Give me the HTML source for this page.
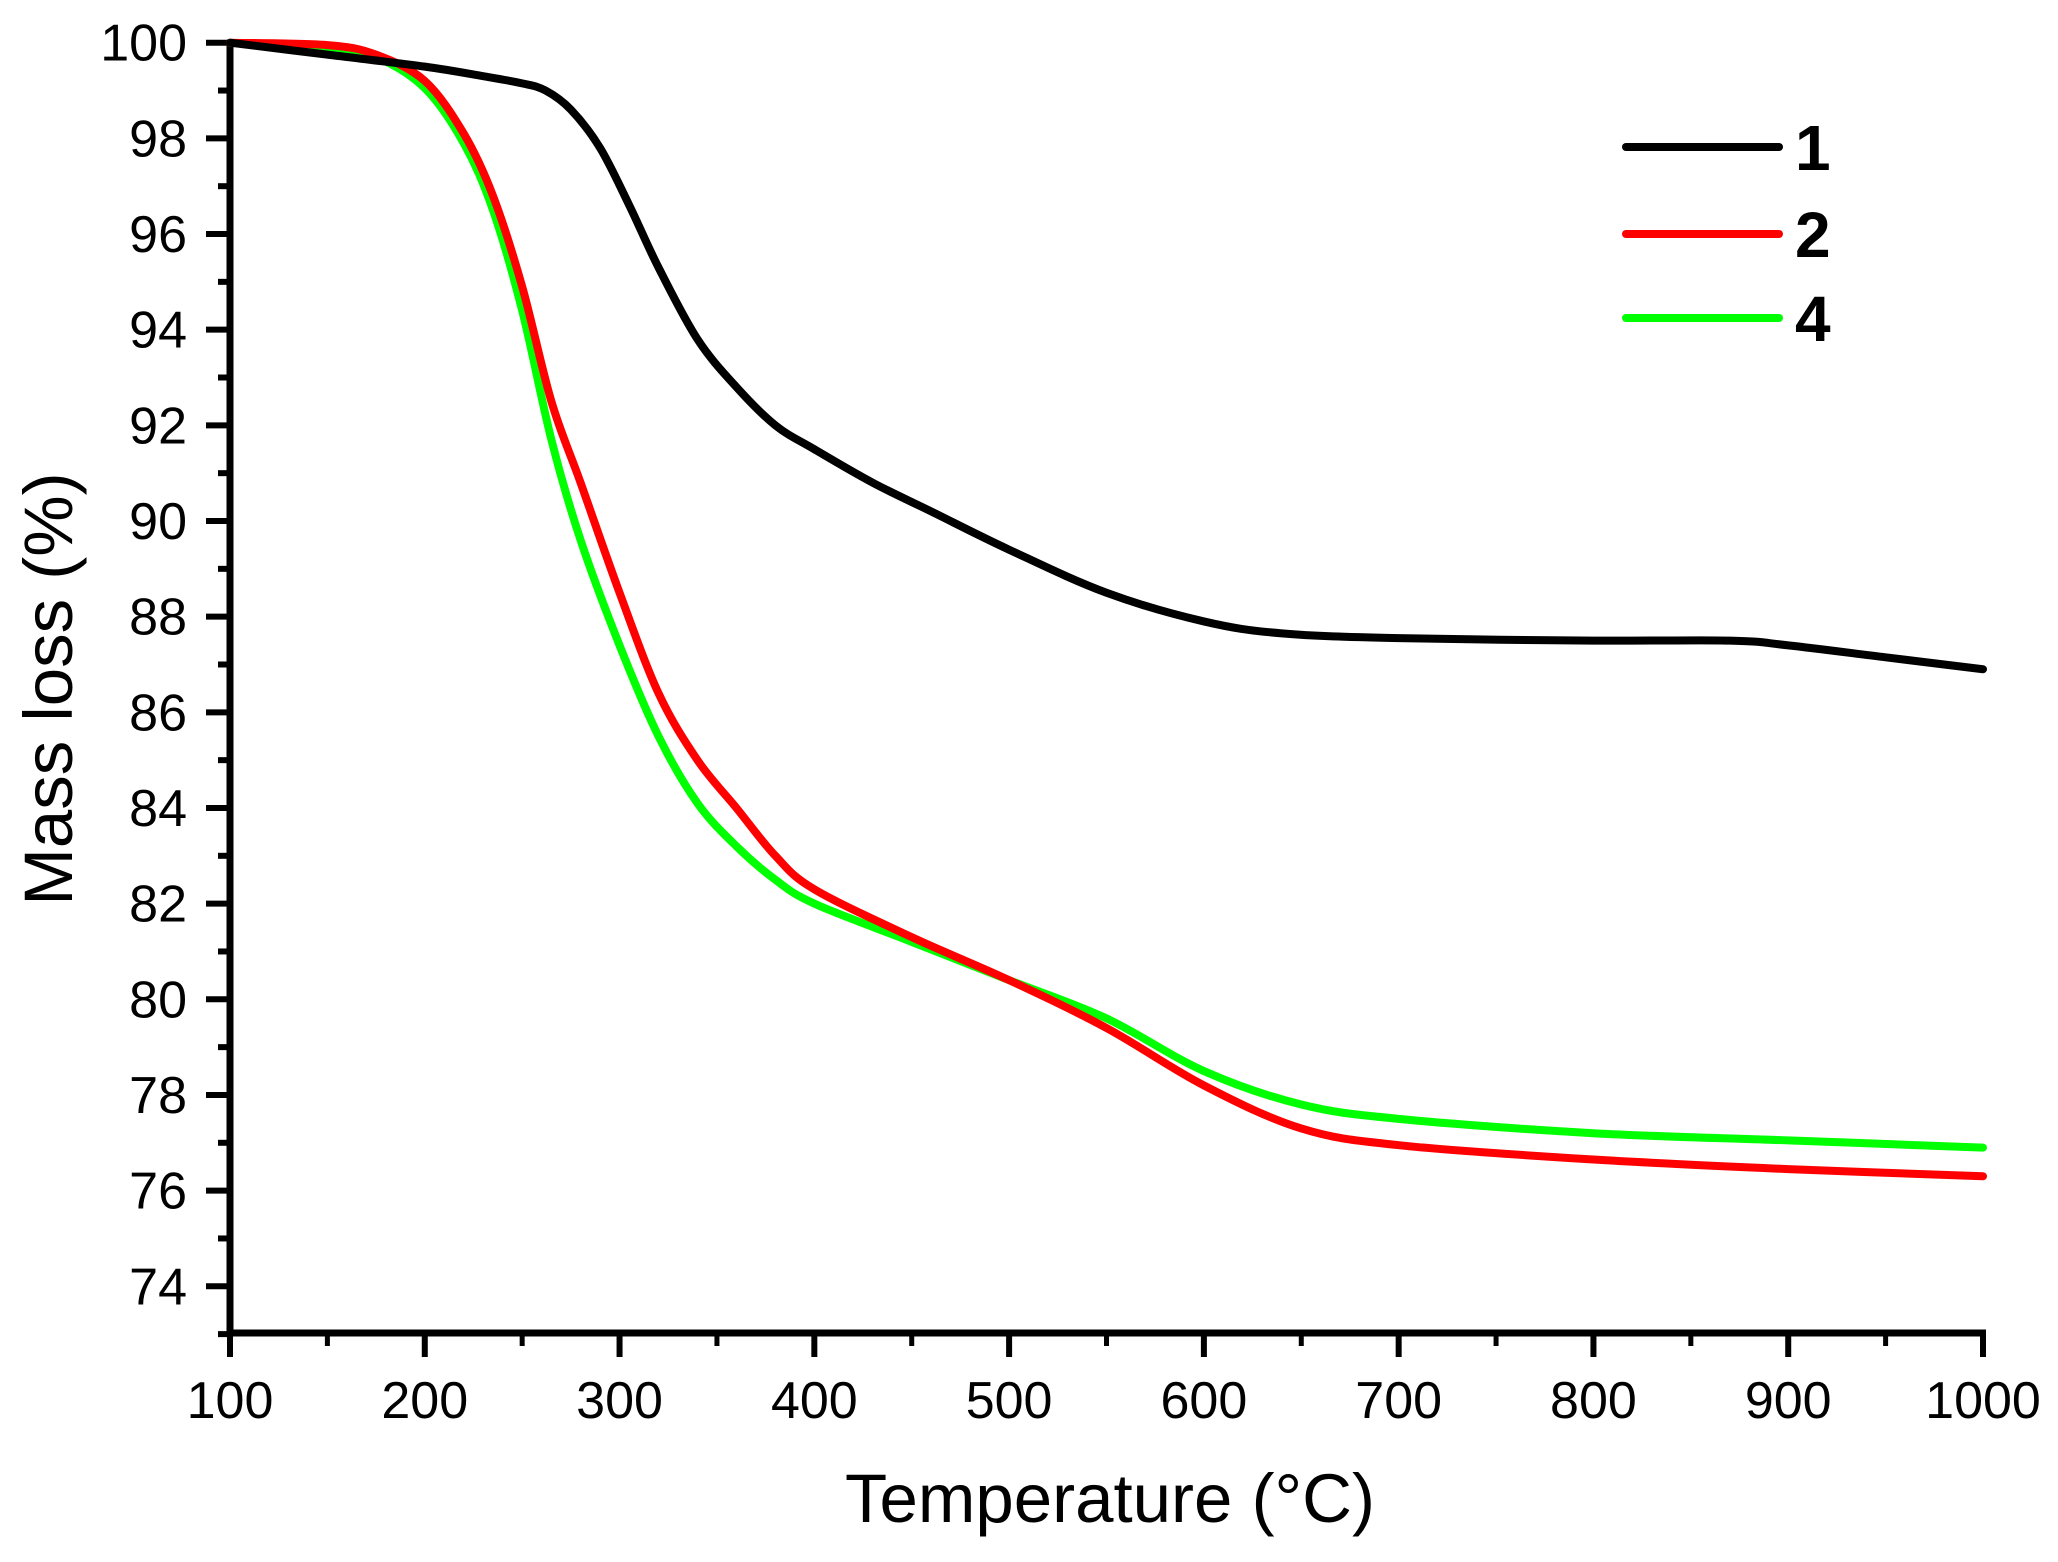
<!DOCTYPE html>
<html><head><meta charset="utf-8"><style>
html,body{margin:0;padding:0;background:#fff;}
svg{display:block;font-family:"Liberation Sans",Arial,sans-serif;}
</style></head><body>
<svg id="chart" width="2058" height="1562" viewBox="0 0 2058 1562">
<g id="axes"></g>
<g id="series"></g>
<g id="legend"></g>
<text x="1110" y="1522" font-size="69" text-anchor="middle">Temperature (°C)</text>
<text transform="translate(72,689) rotate(-90)" font-size="69" text-anchor="middle">Mass loss (%)</text>
</svg>
<script>
const xTicks = [100,200,300,400,500,600,700,800,900,1000];
const yTicks = [74,76,78,80,82,84,86,88,90,92,94,96,98,100];
const seriesNames = ["1","2","4"];
const seriesColors = ["#000000","#ff0000","#00ff00"];
const temps1 = [100,150,200,230,250,262,275,290,305,320,340,360,380,400,430,460,500,550,600,640,700,800,870,900,950,1000];
const mass1  = [100,99.75,99.5,99.3,99.15,99.0,98.6,97.8,96.6,95.3,93.8,92.8,92.0,91.5,90.8,90.2,89.4,88.5,87.9,87.65,87.55,87.5,87.5,87.4,87.15,86.9];
const temps2 = [100,150,175,200,220,235,250,265,280,300,320,340,360,380,400,450,500,550,600,650,700,800,900,1000];
const mass2  = [100,99.95,99.75,99.2,98.1,96.8,94.9,92.5,90.8,88.5,86.4,85.0,84.0,83.0,82.3,81.3,80.4,79.4,78.2,77.3,76.95,76.65,76.45,76.3];
const temps4 = [100,150,175,200,220,235,250,265,280,300,320,340,360,380,400,450,500,550,600,650,700,800,900,1000];
const mass4  = [100,99.9,99.7,99.05,97.9,96.5,94.4,91.7,89.6,87.4,85.5,84.1,83.2,82.5,82.0,81.2,80.4,79.6,78.5,77.8,77.5,77.2,77.05,76.9];

const NS="http://www.w3.org/2000/svg";
const X0=230, X1=1983, Y0=1333;
function sx(t){return X0+(t-100)/900*(X1-X0);}
function sy(v){return 42.7+(100-v)*47.83;}
function mk(tag,attrs,parent){const e=document.createElementNS(NS,tag);for(const k in attrs)e.setAttribute(k,attrs[k]);parent.appendChild(e);return e;}

const axes=document.getElementById('axes');
let e=mk('line',{x1:X0,y1:sy(100)-3,x2:X0,y2:Y0+3,stroke:'#000','stroke-width':7},axes);


e=mk('line',{x1:X0-3,y1:Y0,x2:X1+3,y2:Y0,stroke:'#000','stroke-width':7},axes);


for(let t=100;t<=1000;t+=50){
  const major=(t%100===0);
  e=mk('line',{x1:sx(t),y1:Y0,x2:sx(t),y2:Y0+(major?24:13),stroke:'#000','stroke-width':major?6:5},axes);
  
  
}
xTicks.forEach(t=>{
  e=mk('text',{x:sx(t),y:1418,'font-size':52,'text-anchor':'middle'},axes);
  e.textContent=t;
  
  
});
for(let v=73;v<=100;v+=1){
  const major=(v%2===0);
  e=mk('line',{x1:X0,y1:sy(v),x2:X0-(major?24:12),y2:sy(v),stroke:'#000','stroke-width':6},axes);
  
  
}
yTicks.forEach(v=>{
  e=mk('text',{x:187,y:sy(v)+18,'font-size':52,'text-anchor':'end'},axes);
  e.textContent=v;
  
  
});

function pathFor(ts,ms){
  const p=ts.map((t,i)=>[sx(t),sy(ms[i])]);
  let d='M'+p[0][0]+','+p[0][1];
  for(let i=0;i<p.length-1;i++){
    const a=p[i-1]||p[i], b=p[i], c=p[i+1], dd=p[i+2]||c;
    const c1=[b[0]+(c[0]-a[0])/6,b[1]+(c[1]-a[1])/6];
    const c2=[c[0]-(dd[0]-b[0])/6,c[1]-(dd[1]-b[1])/6];
    d+=' C'+c1+' '+c2+' '+c;
  }
  return d;
}
const ser=document.getElementById('series');
const data=[[temps1,mass1],[temps2,mass2],[temps4,mass4]];
[2,1,0].forEach(i=>{
  const el=mk('path',{d:pathFor(data[i][0],data[i][1]),fill:'none',stroke:seriesColors[i],'stroke-width':8,'stroke-linecap':'round','stroke-linejoin':'round'},ser);
  
  
});

const leg=document.getElementById('legend');
const legY=[147,234,318];
seriesNames.forEach((n,i)=>{
  const g=mk('g',{},leg);
  
  
  mk('line',{x1:1626,y1:legY[i],x2:1779,y2:legY[i],stroke:seriesColors[i],'stroke-width':8,'stroke-linecap':'round'},g);
  const t=mk('text',{x:1795,y:legY[i]+23,'font-size':64,'font-weight':'bold'},g);
  t.textContent=n;
});
</script>
</body></html>
